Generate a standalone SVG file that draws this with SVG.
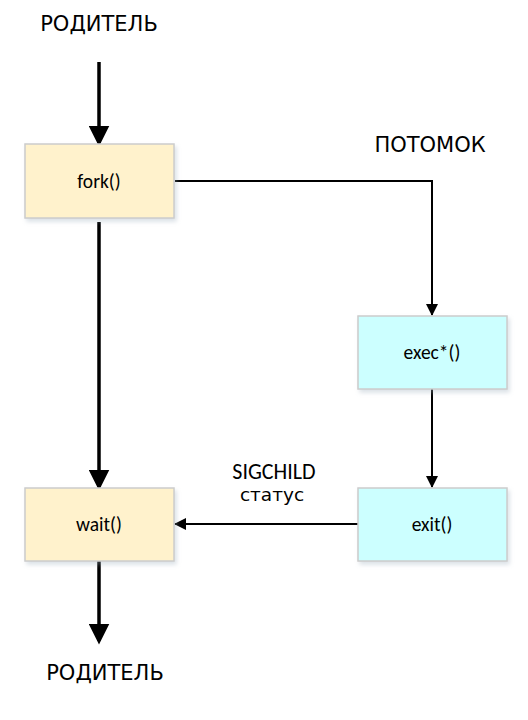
<svg xmlns="http://www.w3.org/2000/svg" width="528" height="720" viewBox="0 0 528 720">
<defs>
<filter id="sh" x="-10%" y="-10%" width="125%" height="130%"><feDropShadow dx="2" dy="3" stdDev="2" flood-color="#9ab" flood-opacity="0.35"/></filter>
<marker id="big" markerWidth="6" markerHeight="6" refX="5" refY="3" orient="auto" markerUnits="strokeWidth"><path d="M0,0 L6,3 L0,6 Z" fill="#000"/></marker>
<marker id="sm" markerWidth="12" markerHeight="12" refX="11" refY="6" orient="auto" markerUnits="userSpaceOnUse"><path d="M0,0 L12,6 L0,12 Z" fill="#000"/></marker>
</defs>
<style>
.p{fill:#fff2cc;stroke:#cccccc;stroke-width:1.5}
.c{fill:#ccffff;stroke:#cccccc;stroke-width:1.5}
.t{font-family:Carlito,Lato,"Liberation Sans",sans-serif;font-size:19.5px;text-anchor:middle;fill:#000}
.h{font-family:"DejaVu Sans",sans-serif;font-size:21px;text-anchor:middle;fill:#000}
.thick{stroke:#000;stroke-width:3.5;fill:none;marker-end:url(#big)}
.thin{stroke:#000;stroke-width:2;fill:none;marker-end:url(#sm)}
</style>
<text class="h" x="99" y="31">РОДИТЕЛЬ</text>
<text class="h" x="430" y="152">ПОТОМОК</text>
<text class="h" x="105" y="680">РОДИТЕЛЬ</text>
<g id="connectors">
<line class="thick" x1="99" y1="62" x2="99" y2="143"/>
<line class="thick" x1="99" y1="222" x2="99" y2="487"/>
<line class="thick" x1="99" y1="561" x2="99" y2="641"/>
<polyline class="thin" points="175,181 432,181 432,315"/>
<line class="thin" x1="432" y1="389" x2="432" y2="487"/>
<line class="thin" x1="358" y1="524" x2="175" y2="524"/>
<text class="t" x="274" y="479" style="font-size:22px">SIGCHILD</text>
<text class="h" x="272" y="501" style="font-size:18.5px">статус</text>
</g>
<g id="fork"><rect class="p" x="25" y="144" width="149" height="74" filter="url(#sh)"/><text class="t" x="99" y="188">fork()</text></g>
<g id="exec"><rect class="c" x="358" y="316" width="149" height="73" filter="url(#sh)"/><text class="t" x="432" y="359">exec*()</text></g>
<g id="wait"><rect class="p" x="25" y="488" width="149" height="73" filter="url(#sh)"/><text class="t" x="99" y="531">wait()</text></g>
<g id="exit"><rect class="c" x="358" y="488" width="149" height="73" filter="url(#sh)"/><text class="t" x="432" y="531">exit()</text></g>
</svg>
